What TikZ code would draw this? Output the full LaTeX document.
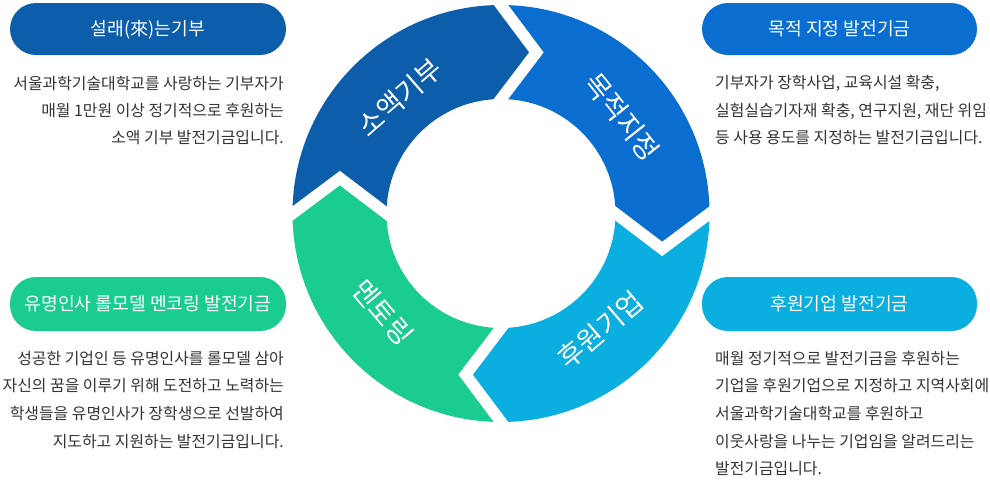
\documentclass[tikz,border=0pt]{standalone}
\usepackage{fontspec}
\setmainfont{Noto Sans CJK KR}
\usetikzlibrary{calc}
\definecolor{cdark}{HTML}{0D5EAA}
\definecolor{cblue}{HTML}{096ECF}
\definecolor{ccyan}{HTML}{0AAEDF}
\definecolor{cgreen}{HTML}{1BCC91}
\definecolor{ctext}{HTML}{333333}
\def\Ro{208.5pt}
\def\Ri{114.5pt}
\def\Rt{165pt}
\def\dl{12.4}
\begin{document}
\begin{tikzpicture}[x=1pt,y=1pt,
  pill/.style={rectangle, rounded corners=26pt, minimum width=276pt, inner sep=0pt,
    text=white, font=\fontsize{18.2}{22}\selectfont, text height=15.4pt, text depth=1.6pt},
  bodyr/.style={anchor=east, inner sep=0pt, text=ctext,
    font=\fontsize{15.9}{19}\selectfont, text height=13.6pt, text depth=1.6pt},
  bodyl/.style={bodyr, anchor=west},
  ringlabel/.style={text=white, inner sep=0pt, font=\fontsize{27.5}{32}\selectfont,
    text height=24pt, text depth=3pt},
  divider/.style={draw=white, line width=11.5pt, line join=miter, miter limit=20}]
\useasboundingbox (0,0) rectangle (990,-499);

\begin{scope}[shift={(501,-213.5)}]
  % segments (clockwise arrows)
  \fill[cdark] (180:\Ro) arc[start angle=180, end angle=90, radius=\Ro]
    -- (90-\dl:\Rt) -- (90:\Ri) arc[start angle=90, end angle=180, radius=\Ri]
    -- (180-\dl:\Rt) -- cycle;
  \fill[cblue] (90:\Ro) arc[start angle=90, end angle=0, radius=\Ro]
    -- (-\dl:\Rt) -- (0:\Ri) arc[start angle=0, end angle=90, radius=\Ri]
    -- (90-\dl:\Rt) -- cycle;
  \fill[ccyan] (0:\Ro) arc[start angle=0, end angle=-90, radius=\Ro]
    -- (-90-\dl:\Rt) -- (-90:\Ri) arc[start angle=-90, end angle=0, radius=\Ri]
    -- (-\dl:\Rt) -- cycle;
  \fill[cgreen] (-90:\Ro) arc[start angle=-90, end angle=-180, radius=\Ro]
    -- (-180-\dl:\Rt) -- (-180:\Ri) arc[start angle=-180, end angle=-90, radius=\Ri]
    -- (-90-\dl:\Rt) -- cycle;
  % white chevron gaps
  \foreach \t in {90,0,-90,180}{
    \draw[divider] ($(\t-\dl:\Rt)!1.35!(\t:\Ro)$) -- (\t-\dl:\Rt) -- ($(\t-\dl:\Rt)!1.35!(\t:\Ri)$);
  }
  % ring labels
  \node[ringlabel, rotate=41] (l1) at (131:154pt) {소액기부};
  \node[ringlabel, rotate=-51.5] (l2) at (38.5:155pt) {목적지정};
  \node[ringlabel, rotate=40.5] (l3) at (-49.5:153pt) {후원기업};
  \node[ringlabel, rotate=-50] (l4) at (220:154pt) {멘토링};
\end{scope}

% pills
\node[pill, fill=cdark, minimum height=52pt] (p1) at (148,-29) {설래(來)는기부};
\node[pill, fill=cblue, minimum height=52pt, minimum width=275pt] (p2) at (839.5,-29) {목적 지정 발전기금};
\node[pill, fill=cgreen, minimum height=54pt] (p3) at (148,-304) {유명인사 롤모델 멘코링 발전기금};
\node[pill, fill=ccyan, minimum height=54pt, minimum width=275pt] (p4) at (839.5,-304) {후원기업 발전기금};

% top-left text
\node[bodyr] (a1) at (284,-83) {서울과학기술대학교를 사랑하는 기부자가};
\node[bodyr] (a2) at (284,-110) {매월 1만원 이상 정기적으로 후원하는};
\node[bodyr] (a3) at (284,-137) {소액 기부 발전기금입니다.};
% bottom-left text
\node[bodyr] (b1) at (284,-358) {성공한 기업인 등 유명인사를 롤모델 삼아};
\node[bodyr] (b2) at (284,-385.5) {자신의 꿈을 이루기 위해 도전하고 노력하는};
\node[bodyr] (b3) at (284,-413) {학생들을 유명인사가 장학생으로 선발하여};
\node[bodyr] (b4) at (284,-441) {지도하고 지원하는 발전기금입니다.};
% top-right text
\node[bodyl] (c1) at (715,-82) {기부자가 장학사업, 교육시설 확충,};
\node[bodyl] (c2) at (715,-110) {실험실습기자재 확충, 연구지원, 재단 위임};
\node[bodyl] (c3) at (715,-137) {등 사용 용도를 지정하는 발전기금입니다.};
% bottom-right text
\node[bodyl] (d1) at (715,-358) {매월 정기적으로 발전기금을 후원하는};
\node[bodyl] (d2) at (715,-385.5) {기업을 후원기업으로 지정하고 지역사회에};
\node[bodyl] (d3) at (715,-413) {서울과학기술대학교를 후원하고};
\node[bodyl] (d4) at (715,-441) {이웃사랑을 나누는 기업임을 알려드리는};
\node[bodyl] (d5) at (715,-468.5) {발전기금입니다.};
\end{tikzpicture}
\end{document}
